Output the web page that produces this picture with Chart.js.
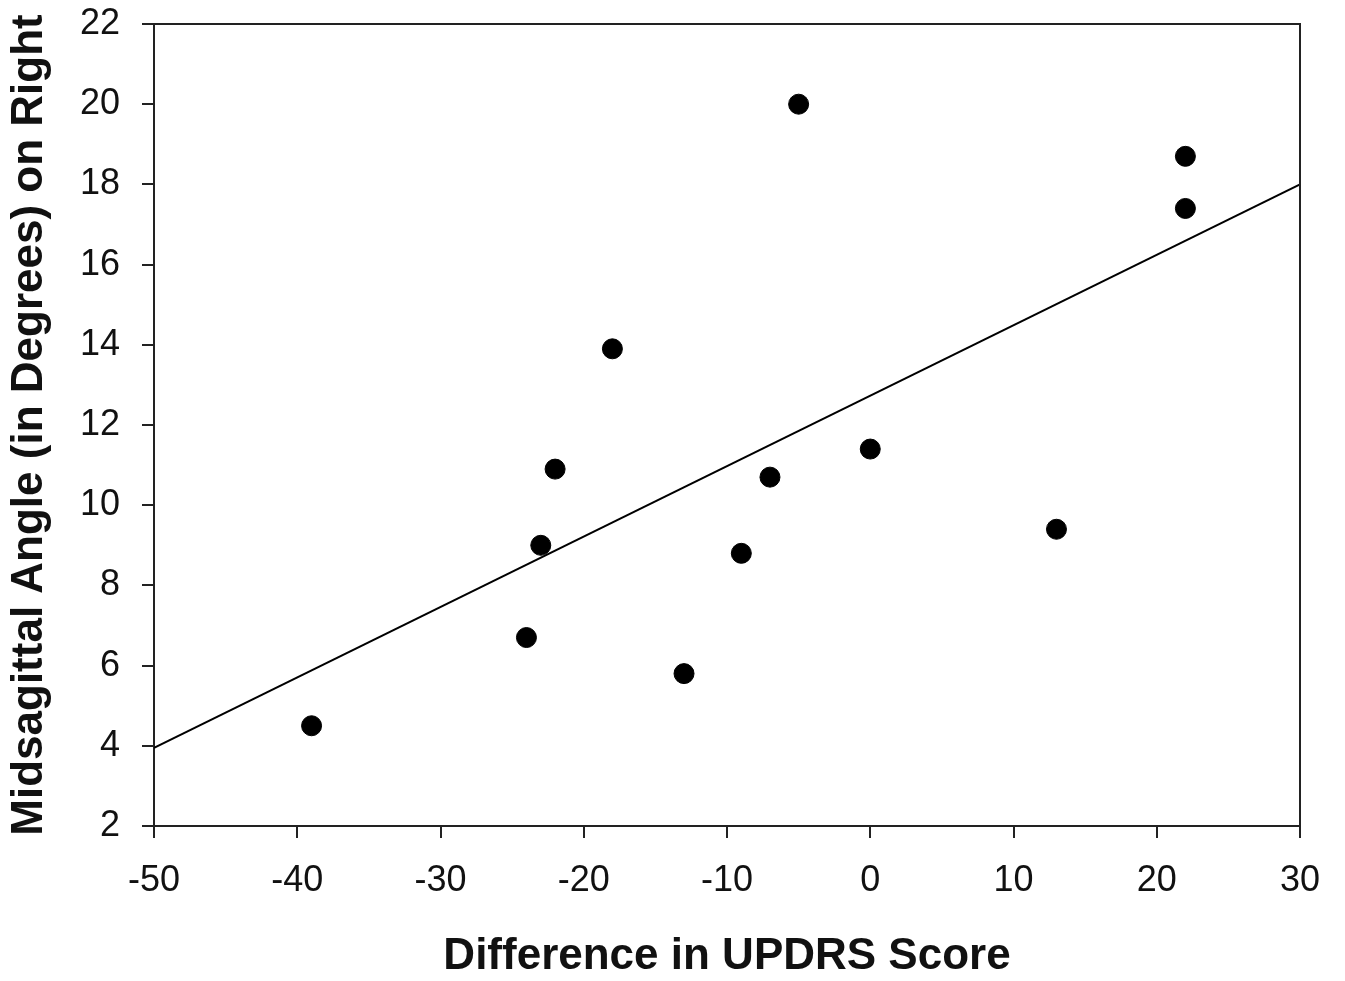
<!DOCTYPE html>
<html>
<head>
<meta charset="utf-8">
<script src="https://cdn.jsdelivr.net/npm/chart.js@4.4.1/dist/chart.umd.min.js"></script>
<style>
  body { margin: 0; background: #fff; }
  #wrap { width: 1345px; height: 981px; }
</style>
</head>
<body>
<div id="wrap"><canvas id="myChart" width="1345" height="981"></canvas></div>
<script>
// UPDRS difference vs right-side midsagittal angle
var diffScore = [-39, -24, -23, -22, -18, -13, -9, -7, -5, 0, 13, 22, 22];
var angleRight = [4.5, 6.7, 9.0, 10.9, 13.9, 5.8, 8.8, 10.7, 20.0, 11.4, 9.4, 18.7, 17.4];

// fitted regression line, end points
var fitX = [-50, 30];
var fitY = [3.95, 18.0];

var xTicks = [-50, -40, -30, -20, -10, 0, 10, 20, 30];
var yTicks = [2, 4, 6, 8, 10, 12, 14, 16, 18, 20, 22];

var points = diffScore.map(function(v, i) { return {x: v, y: angleRight[i]}; });
var fitLine = fitX.map(function(v, i) { return {x: v, y: fitY[i]}; });

var axisColor = '#222';
var fontFamily = '"Liberation Sans", Arial, Helvetica, sans-serif';

// top and right edges of the plot frame
const frameBorder = {
  id: 'frameBorder',
  afterDraw(chart, args, options) {
    const {ctx, chartArea: {left, top, right, bottom}} = chart;
    ctx.save();
    ctx.strokeStyle = options.borderColor;
    ctx.lineWidth = options.borderWidth;
    ctx.beginPath();
    ctx.moveTo(left, top);
    ctx.lineTo(right, top);
    ctx.lineTo(right, bottom);
    ctx.stroke();
    ctx.restore();
  }
};

new Chart(document.getElementById('myChart'), {
  type: 'scatter',
  data: {
    datasets: [{
      label: 'Patients',
      data: points,
      backgroundColor: '#000',
      borderColor: '#000',
      borderWidth: 1,
      pointRadius: 10,
      pointHoverRadius: 10
    }, {
      type: 'line',
      label: 'Fit',
      data: fitLine,
      fill: false,
      borderColor: '#000',
      borderWidth: 2,
      pointRadius: 0
    }]
  },
  options: {
    responsive: false,
    animation: false,
    layout: {
      padding: {top: 24, right: 45, left: 0, bottom: 0}
    },
    plugins: {
      legend: { display: false },
      tooltip: { enabled: false },
      frameBorder: { borderColor: axisColor, borderWidth: 2 }
    },
    scales: {
      x: {
        type: 'linear',
        min: -50,
        max: 30,
        afterBuildTicks: function(scale) {
          scale.ticks = xTicks.map(function(v) { return {value: v}; });
        },
        afterFit: function(scale) {
          scale.height = 155;
          scale.paddingLeft = 0;
          scale.paddingRight = 0;
        },
        grid: {
          drawOnChartArea: false,
          drawTicks: true,
          tickLength: 12,
          color: axisColor,
          lineWidth: 2
        },
        border: { display: true, color: axisColor, width: 2 },
        ticks: {
          color: '#111',
          padding: 21,
          font: { family: fontFamily, size: 36 }
        },
        title: {
          display: true,
          text: 'Difference in UPDRS Score',
          color: '#111',
          padding: { top: 0, bottom: 2 },
          font: { family: fontFamily, size: 44, weight: 'bold', lineHeight: 1 }
        }
      },
      y: {
        type: 'linear',
        min: 2,
        max: 22,
        afterBuildTicks: function(scale) {
          scale.ticks = yTicks.map(function(v) { return {value: v}; });
        },
        afterFit: function(scale) {
          scale.width = 154;
          scale.paddingTop = 0;
          scale.paddingBottom = 0;
        },
        grid: {
          drawOnChartArea: false,
          drawTicks: true,
          tickLength: 12,
          color: axisColor,
          lineWidth: 2
        },
        border: { display: true, color: axisColor, width: 2 },
        ticks: {
          color: '#111',
          padding: 22,
          font: { family: fontFamily, size: 36 }
        },
        title: {
          display: true,
          text: 'Midsagittal Angle (in Degrees) on Right',
          color: '#111',
          padding: { top: 8, bottom: 0 },
          font: { family: fontFamily, size: 44, weight: 'bold', lineHeight: 1 }
        }
      }
    }
  },
  plugins: [frameBorder]
});
</script>
</body>
</html>
